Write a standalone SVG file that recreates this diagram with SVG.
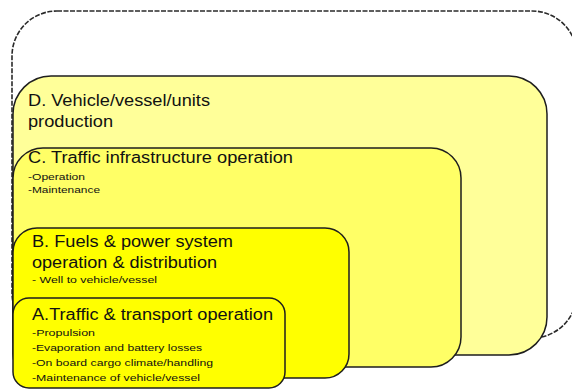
<svg xmlns="http://www.w3.org/2000/svg" width="572" height="390" viewBox="0 0 572 390">
<style>
.box{stroke:#1e1e1e;stroke-width:1.5}
.t{font-family:"Liberation Sans",Arial,sans-serif;font-size:16px;fill:#111}
.s{font-family:"Liberation Sans",Arial,sans-serif;font-size:9.5px;fill:#111}
</style>
<rect width="572" height="390" fill="#ffffff"/>
<g id="outer">
<rect x="12" y="11" width="565" height="327" rx="45" ry="45" fill="#ffffff" stroke="#2a2a2a" stroke-width="1.6" stroke-dasharray="5 1.5"/>
</g>
<g id="D">
<rect class="box" x="13" y="76" width="534" height="279" rx="38" ry="38" fill="#FFFF99"/>
<text class="t" x="28" y="106" textLength="182" lengthAdjust="spacingAndGlyphs">D. Vehicle/vessel/units</text>
<text class="t" x="28" y="127" textLength="85" lengthAdjust="spacingAndGlyphs">production</text>
</g>
<g id="C">
<rect class="box" x="13" y="148" width="448" height="219" rx="30" ry="30" fill="#FFFF66"/>
<text class="t" x="28" y="163" textLength="265" lengthAdjust="spacingAndGlyphs">C. Traffic infrastructure operation</text>
<text class="s" x="28" y="180" textLength="57" lengthAdjust="spacingAndGlyphs">-Operation</text>
<text class="s" x="28" y="193" textLength="72" lengthAdjust="spacingAndGlyphs">-Maintenance</text>
</g>
<g id="B">
<rect class="box" x="13" y="228" width="336" height="150" rx="24" ry="24" fill="#FFFF00"/>
<text class="t" x="32" y="247" textLength="201" lengthAdjust="spacingAndGlyphs">B. Fuels &amp; power system</text>
<text class="t" x="32" y="268" textLength="185" lengthAdjust="spacingAndGlyphs">operation &amp; distribution</text>
<text class="s" x="32" y="283" textLength="125" lengthAdjust="spacingAndGlyphs">- Well to vehicle/vessel</text>
</g>
<g id="A">
<rect class="box" x="13" y="298" width="272" height="90" rx="16" ry="16" fill="#FFFF00"/>
<text class="t" x="32" y="320" textLength="241" lengthAdjust="spacingAndGlyphs">A.Traffic &amp; transport operation</text>
<text class="s" x="32" y="336" textLength="63" lengthAdjust="spacingAndGlyphs">-Propulsion</text>
<text class="s" x="32" y="351" textLength="170" lengthAdjust="spacingAndGlyphs">-Evaporation and battery losses</text>
<text class="s" x="32" y="366" textLength="181" lengthAdjust="spacingAndGlyphs">-On board cargo climate/handling</text>
<text class="s" x="32" y="381" textLength="168" lengthAdjust="spacingAndGlyphs">-Maintenance of vehicle/vessel</text>
</g>
<g id="connectors"></g>
</svg>
